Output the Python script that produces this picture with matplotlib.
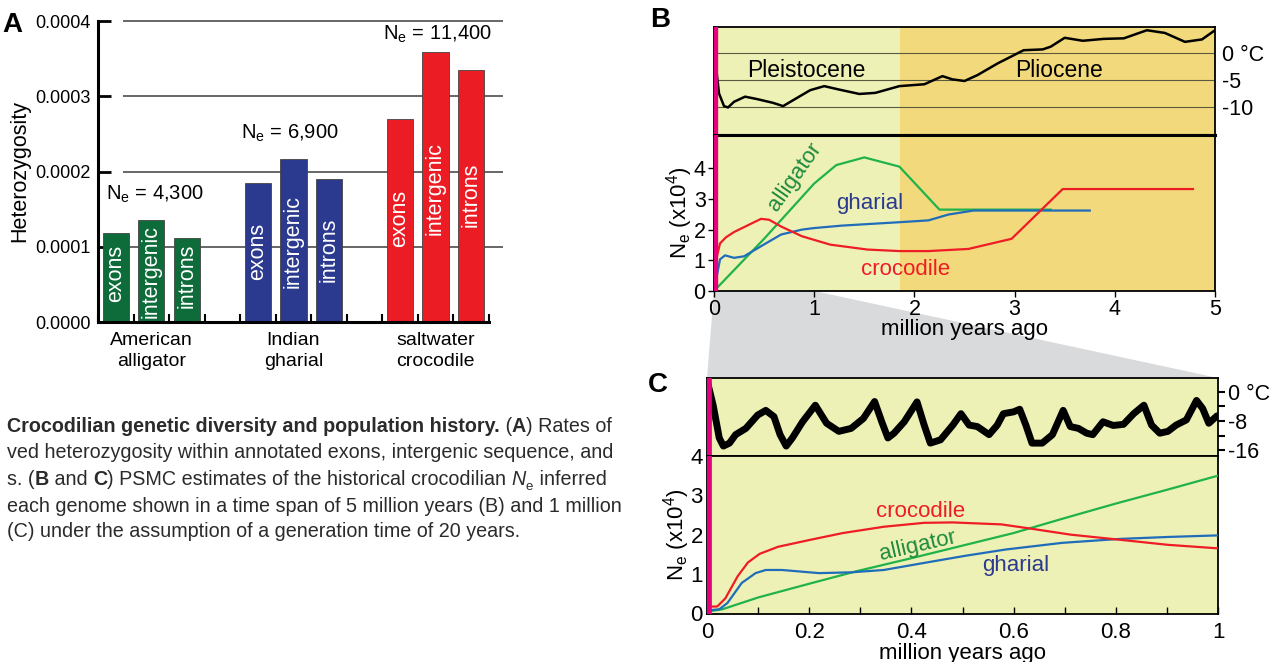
import matplotlib
matplotlib.use("Agg")
import matplotlib.pyplot as plt
import numpy as np
from matplotlib.patches import Polygon

# panel A data
het_categories = ["exons", "intergenic", "introns"]
species_labels = ["American\nalligator", "Indian\ngharial", "saltwater\ncrocodile"]
ne_values = [4300, 6900, 11400]
het_alligator = [0.000118, 0.000136, 0.000112]
het_gharial = [0.000185, 0.000217, 0.000190]
het_crocodile = [0.000270, 0.000359, 0.000335]

# panel B (5 Myr)
pleistocene_end = 1.86
temp5_myr = [0.0, 0.02, 0.05, 0.10, 0.14, 0.20, 0.31, 0.43, 0.59, 0.69, 0.79, 0.96, 1.10, 1.24, 1.45,
             1.61, 1.85, 2.10, 2.28, 2.38, 2.50, 2.63, 2.83, 3.09, 3.28, 3.36, 3.50, 3.68, 3.89, 4.09,
             4.32, 4.50, 4.70, 4.87, 5.00]
temp5_c = [1.85, -2.5, -7.4, -9.75, -10.0, -8.95, -8.0, -8.45, -9.15, -9.75, -8.65, -6.8, -6.05, -6.65, -7.5,
           -7.3, -6.05, -5.7, -4.2, -4.8, -5.1, -4.0, -1.85, 0.6, 0.75, 1.25, 2.9, 2.35, 2.7, 2.8,
           4.3, 3.8, 2.15, 2.6, 4.3]
alligator5_myr = [0, 0.25, 0.5, 0.75, 1.0, 1.22, 1.5, 1.85, 2.25, 3.36]
alligator5_ne = [0, 0.85, 1.7, 2.6, 3.5, 4.1, 4.35, 4.05, 2.65, 2.65]
gharial5_myr = [0, 0.06, 0.11, 0.2, 0.3, 0.47, 0.67, 0.88, 1.0, 1.28, 1.85, 2.14, 2.34, 2.59, 3.75]
gharial5_ne = [0, 1.03, 1.16, 1.08, 1.13, 1.46, 1.84, 2.0, 2.05, 2.13, 2.24, 2.3, 2.49, 2.62, 2.62]
crocodile5_myr = [0, 0.02, 0.06, 0.12, 0.2, 0.35, 0.47, 0.55, 0.67, 0.88, 1.16, 1.53, 1.85, 2.14, 2.54,
                  2.97, 3.48, 4.78]
crocodile5_ne = [0, 1.0, 1.55, 1.75, 1.92, 2.16, 2.35, 2.32, 2.1, 1.78, 1.51, 1.35, 1.3, 1.3, 1.37,
                 1.7, 3.32, 3.32]

# panel C (1 Myr)
temp1_myr = [0.002, 0.012, 0.024, 0.032, 0.044, 0.056, 0.076, 0.099, 0.115, 0.131, 0.143, 0.155, 0.167,
             0.187, 0.212, 0.234, 0.258, 0.282, 0.306, 0.328, 0.342, 0.354, 0.366, 0.386, 0.411, 0.425,
             0.437, 0.457, 0.481, 0.497, 0.513, 0.529, 0.552, 0.568, 0.580, 0.600, 0.612, 0.624, 0.636,
             0.656, 0.676, 0.697, 0.711, 0.727, 0.743, 0.755, 0.775, 0.795, 0.815, 0.835, 0.855, 0.870,
             0.886, 0.902, 0.918, 0.938, 0.958, 0.970, 0.982, 0.998]
temp1_c = [2.0, -3.7, -12.6, -14.8, -14.0, -11.7, -10.0, -6.4, -5.1, -6.8, -11.7, -14.8, -12.6,
           -8.2, -3.7, -8.6, -10.8, -10.0, -7.3, -2.7, -8.2, -12.6, -11.3, -8.2, -2.8, -9.1,
           -14.0, -13.1, -9.1, -6.0, -9.1, -9.5, -11.7, -9.1, -6.0, -5.5, -4.8, -9.1, -14.0,
           -14.0, -11.7, -5.1, -9.5, -10.0, -11.3, -11.7, -8.2, -9.2, -8.9, -6.0, -3.7, -9.1,
           -11.3, -10.8, -9.1, -7.7, -2.4, -4.6, -8.6, -6.6]
alligator1_myr = [0, 0.03, 0.1, 0.2, 0.29, 0.4, 0.5, 0.6, 0.7, 0.8, 0.9, 1.0]
alligator1_ne = [0.04, 0.1, 0.4, 0.75, 1.06, 1.4, 1.72, 2.04, 2.42, 2.79, 3.14, 3.5]
gharial1_myr = [0, 0.024, 0.04, 0.068, 0.095, 0.115, 0.147, 0.219, 0.282, 0.346, 0.425, 0.505, 0.584,
                0.695, 0.807, 0.902, 1.0]
gharial1_ne = [0.07, 0.1, 0.26, 0.77, 1.02, 1.1, 1.1, 1.02, 1.04, 1.1, 1.28, 1.46, 1.62,
               1.79, 1.89, 1.94, 1.98]
crocodile1_myr = [0, 0.02, 0.036, 0.06, 0.08, 0.103, 0.139, 0.203, 0.266, 0.346, 0.425, 0.481, 0.576,
                  0.64, 0.711, 0.807, 0.902, 1.0]
crocodile1_ne = [0.17, 0.17, 0.38, 0.94, 1.29, 1.51, 1.69, 1.87, 2.04, 2.2, 2.3, 2.31, 2.26,
                 2.14, 2.0, 1.87, 1.74, 1.65]

plt.rcParams["font.family"] = ["Liberation Sans", "DejaVu Sans"]
plt.rcParams["mathtext.fontset"] = "custom"
plt.rcParams["mathtext.rm"] = "Liberation Sans"
plt.rcParams["mathtext.it"] = "Liberation Sans:italic"

W, H = 1277, 662
fig = plt.figure(figsize=(W / 100, H / 100), dpi=100)


def box(x0, y0, x1, y1):
    # pixel box (top-left origin) -> figure fraction rect
    return [x0 / W, 1 - y1 / H, (x1 - x0) / W, (y1 - y0) / H]


light = "#eef1b5"
dark = "#f2d97b"
magenta = "#e5007e"
c_green, c_blue, c_red = "#20b24b", "#1f6dba", "#ee1c25"

# ---------------- A ----------------
axA = fig.add_axes(box(98, 21, 503, 322))
bar_colors = ["#0e6b3a", "#2b3a8f", "#ec1c24"]
label_y = [[0.0000266, 0.0000053, 0.0000186],
           [0.0000558, 0.0000452, 0.0000532],
           [0.0000997, 0.0001156, 0.0001262]]
ne_pos = [(1.1, 0.000162), (4.9, 0.000243), (9.04, 0.000375)]
for g, vals in enumerate([het_alligator, het_gharial, het_crocodile]):
    xs = g * 4 + np.arange(3)
    axA.bar(xs, vals, width=0.74, color=bar_colors[g], edgecolor="#444444", lw=0.6, zorder=2)
    for k in range(3):
        axA.text(xs[k], label_y[g][k], het_categories[k], rotation=90, ha="center", va="bottom",
                 color="white", fontsize=15.5, zorder=3)
    axA.text(g * 4 + 1, -0.000013, species_labels[g], ha="center", va="top", fontsize=14,
             linespacing=1.3)
    axA.text(ne_pos[g][0], ne_pos[g][1], r"N$_\mathregular{e}$ = " + "{:,}".format(ne_values[g]),
             ha="center", va="baseline", fontsize=14.5)
axA.hlines([0.0001, 0.0002, 0.0003, 0.0004], 0.2, 10.9, color="#4d4d4d", lw=1.2, zorder=1, clip_on=False)
axA.set_xlim(-0.5, 10.9)
axA.set_ylim(0, 0.0004)
for s in ["top", "right"]:
    axA.spines[s].set_visible(False)
axA.spines["left"].set_linewidth(2.2)
axA.spines["bottom"].set_linewidth(2.2)
axA.spines["left"].set_bounds(0, 0.0004)
axA.spines["bottom"].set_bounds(-0.5, 10.5)
axA.set_yticks([0, 0.0001, 0.0002, 0.0003, 0.0004])
axA.set_yticklabels(["%.4f" % v for v in [0, 0.0001, 0.0002, 0.0003, 0.0004]], fontsize=13)
axA.tick_params(axis="y", direction="in", length=9, width=2, pad=5)
axA.set_xticks(np.arange(-0.5, 11, 1.0))
axA.set_xticklabels([])
axA.tick_params(axis="x", direction="in", length=6, width=1.5)
axA.set_ylabel("Heterozygosity", fontsize=15.5, labelpad=4)
axA.patch.set_alpha(0)

# ---------------- B ----------------
axBt = fig.add_axes(box(714, 27, 1215, 135))
axBn = fig.add_axes(box(714, 135, 1215, 291))
for ax in [axBt, axBn]:
    ax.axvspan(0, pleistocene_end, color=light, lw=0, zorder=0)
    ax.axvspan(pleistocene_end, 5, color=dark, lw=0, zorder=0)
    ax.axvline(0, color=magenta, lw=6, zorder=5)
    ax.set_xlim(0, 5)
    for s in ax.spines.values():
        s.set_linewidth(1.3)
axBt.set_ylim(-15.1, 4.9)
for t in [0, -5, -10]:
    axBt.axhline(t, color="#5a5a40", lw=0.8, zorder=1)
axBt.plot(temp5_myr, temp5_c, color="black", lw=1.8, zorder=3, solid_joinstyle="round")
axBt.set_xticks([])
axBt.yaxis.tick_right()
axBt.set_yticks([0, -5, -10])
axBt.set_yticklabels(["0 °C", "-5", "-10"], fontsize=15.5)
axBt.tick_params(axis="y", length=0, pad=5)
axBt.spines["bottom"].set_linewidth(2.2)
axBt.text(0.92, -3.1, "Pleistocene", ha="center", va="center", fontsize=16.5)
axBt.text(3.44, -3.1, "Pliocene", ha="center", va="center", fontsize=16.5)

axBn.set_ylim(0, 5.08)
axBn.plot(alligator5_myr, alligator5_ne, color=c_green, lw=1.6, zorder=3)
axBn.plot(gharial5_myr, gharial5_ne, color=c_blue, lw=1.6, zorder=3)
axBn.plot(crocodile5_myr, crocodile5_ne, color=c_red, lw=1.6, zorder=3)
axBn.text(0.81, 3.73, "alligator", color="#1d8a3e", rotation=55, ha="center", va="center", fontsize=16)
axBn.text(1.55, 2.86, "gharial", color="#2b3a8f", ha="center", va="center", fontsize=16)
axBn.text(1.91, 0.7, "crocodile", color=c_red, ha="center", va="center", fontsize=16)
axBn.spines["top"].set_linewidth(2.2)
axBn.set_xticks(range(6))
axBn.set_yticks(range(5))
axBn.tick_params(labelsize=15.5, length=4, width=1, pad=2)
axBn.set_xlabel("million years ago", fontsize=16, labelpad=-1)
axBn.set_ylabel(r"N$_\mathregular{e}$ (x10$^\mathregular{4}$)", fontsize=16, labelpad=-1)

# ---------------- C ----------------
axCt = fig.add_axes(box(707, 378, 1218, 456))
axCn = fig.add_axes(box(707, 456, 1218, 614))
for ax in [axCt, axCn]:
    ax.set_facecolor(light)
    ax.axvline(0, color=magenta, lw=7, zorder=5)
    ax.set_xlim(0, 1)
    for s in ax.spines.values():
        s.set_linewidth(1.3)
axCt.set_ylim(-17.5, 3.7)
axCt.plot(temp1_myr, temp1_c, color="black", lw=5, zorder=3, solid_joinstyle="round",
          solid_capstyle="round")
axCt.set_xticks([])
axCt.yaxis.tick_right()
axCt.set_yticks([0, -4, -8, -12, -16])
axCt.set_yticklabels(["0 °C", "", "-8", "", "-16"], fontsize=15.5)
axCt.tick_params(axis="y", length=5, width=1.5, pad=2)

axCn.set_ylim(-0.02, 4.0)
axCn.plot(alligator1_myr, alligator1_ne, color=c_green, lw=1.6, zorder=3)
axCn.plot(gharial1_myr, gharial1_ne, color=c_blue, lw=1.6, zorder=3)
axCn.plot(crocodile1_myr, crocodile1_ne, color=c_red, lw=1.6, zorder=3)
axCn.text(0.417, 2.6, "crocodile", color=c_red, ha="center", va="center", fontsize=16)
axCn.text(0.413, 1.72, "alligator", color="#1d8a3e", rotation=13, ha="center", va="center", fontsize=16)
axCn.text(0.604, 1.21, "gharial", color="#2b3a8f", ha="center", va="center", fontsize=16)
axCn.set_xticks([0, 0.2, 0.4, 0.6, 0.8, 1.0])
axCn.set_xticklabels(["0", "0.2", "0.4", "0.6", "0.8", "1"])
axCn.set_xticks(np.arange(0.1, 1.0, 0.2), minor=True)
axCn.tick_params(axis="x", which="both", direction="in", length=5, width=1, pad=6)
axCn.set_yticks(range(5))
axCn.tick_params(labelsize=16)
axCn.tick_params(axis="y", length=0, pad=3)
axCn.set_xlabel("million years ago", fontsize=16, labelpad=0)
axCn.set_ylabel(r"N$_\mathregular{e}$ (x10$^\mathregular{4}$)", fontsize=16, labelpad=-1)

# grey zoom wedge from B (0-1 Myr) to the top of C
to_fig = fig.transFigure.inverted()
p1 = to_fig.transform(axBn.transData.transform((0, 0)))
p2 = to_fig.transform(axBn.transData.transform((axCn.get_xlim()[1], 0)))
p3 = to_fig.transform(axCt.transAxes.transform((1, 1)))
p4 = to_fig.transform(axCt.transAxes.transform((0, 1)))
fig.add_artist(Polygon([p1, p2, p3, p4], closed=True, transform=fig.transFigure,
                       facecolor="#d9dadc", edgecolor="none", zorder=-1))

# panel letters
for letter, (px, py) in zip("ABC", [(12, 25), (660, 20), (658, 385)]):
    fig.text(px / W, 1 - py / H, letter, fontsize=20, fontweight="bold", ha="center", va="center")

# caption (cut off on the left)
cap = fig.add_axes([0, 0, 1, 1])
cap.axis("off")
cap.set_xlim(0, W)
cap.set_ylim(H, 0)
cf = dict(fontsize=14.2, color="#2b2b2b")


def caption_line(y, parts):
    prev = cap.text(7, y, parts[0][0], va="baseline", fontweight=parts[0][1], **cf)
    for txt, wgt in parts[1:]:
        prev = cap.annotate(txt, xy=(1, 0), xycoords=prev, va="bottom", ha="left", fontweight=wgt, **cf)
    return prev


caption_line(432, [("Crocodilian genetic diversity and population history.", "bold"), (" (", "normal"),
                   ("A", "bold"), (") Rates of", "normal")])
caption_line(458, [("ved heterozygosity within annotated exons, intergenic sequence, and", "normal")])
last = caption_line(485, [("s. (", "normal"), ("B", "bold"), (" and ", "normal"), ("C", "bold"),
                          (") PSMC estimates of the historical crocodilian ", "normal")])
nt = cap.annotate("N", xy=(1, 0), xycoords=last, va="bottom", ha="left", style="italic", **cf)
et = cap.annotate("e", xy=(1, 0), xycoords=nt, xytext=(0, -3), textcoords="offset points",
                  va="bottom", ha="left", fontsize=9.5, color="#2b2b2b")
cap.annotate(" inferred", xy=(1, 0), xycoords=nt, xytext=(6, 0), textcoords="offset points",
             va="bottom", ha="left", **cf)
caption_line(512, [("each genome shown in a time span of 5 million years (B) and 1 million", "normal")])
caption_line(537, [("(C) under the assumption of a generation time of 20 years.", "normal")])

fig.savefig("out.png", dpi=100)
